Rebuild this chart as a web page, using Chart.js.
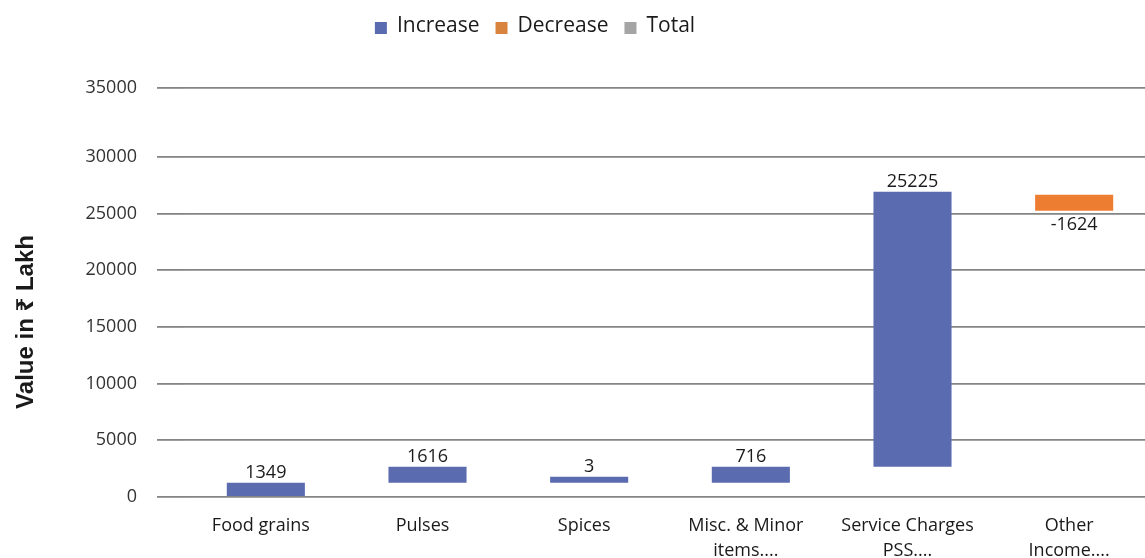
<!DOCTYPE html>
<html>
<head>
<meta charset="utf-8">
<script src="https://cdn.jsdelivr.net/npm/chart.js@4.4.1/dist/chart.umd.min.js"></script>
<style>
  html, body { margin: 0; padding: 0; background: #ffffff; overflow: hidden; }
  #wrap { position: relative; width: 1160px; height: 558px; }
</style>
</head>
<body>
<div id="wrap"><canvas id="c"></canvas></div>
<script>
// ---- data ----
const categories = [
  'Food grains',
  'Pulses',
  'Spices',
  ['Misc. & Minor', 'items....'],
  ['Service Charges', 'PSS....'],
  ['Other', 'Income....']
];
// bar start / end as drawn (value units)
const barStart = [0, 1260, 1260, 1260, 2670, 26660];
const barEnd   = [1260, 2670, 1790, 2670, 26930, 25250];
// printed data labels
const valueLabels = ['1349', '1616', '3', '716', '25225', '-1624'];
// series membership
const isIncrease = [true, true, true, true, true, false];
const seriesNames = ['Increase', 'Decrease', 'Total'];
const seriesColors = ['#5B6BB0', '#ED7D31', '#A5A5A5'];
const legendColors = ['#5B6BB0', '#D9843E', '#A5A5A5'];
const yTickLabels = ['0', '5000', '10000', '15000', '20000', '25000', '30000', '35000'];
const yTitle = 'Value in \u20B9 Lakh';

const incData = categories.map((_, i) => isIncrease[i] ? [barStart[i], barEnd[i]] : null);
const decData = categories.map((_, i) => !isIncrease[i] ? [barStart[i], barEnd[i]] : null);
const totData = categories.map(() => null);

const FONT = "'Open Sans', 'Noto Sans', sans-serif";

const labelPlugin = {
  id: 'valueLabels',
  afterDatasetsDraw(chart) {
    const ctx = chart.ctx;
    ctx.save();
    ctx.font = '18px ' + FONT;
    ctx.fillStyle = '#1a1a1a';
    ctx.textAlign = 'center';
    chart.data.datasets.forEach((ds, di) => {
      const meta = chart.getDatasetMeta(di);
      meta.data.forEach((bar, i) => {
        if (ds.data[i] == null) return;
        const top = Math.min(bar.y, bar.base);
        const bottom = Math.max(bar.y, bar.base);
        if (isIncrease[i]) {
          ctx.textBaseline = 'bottom';
          ctx.fillText(valueLabels[i], bar.x, top - 1);
        } else {
          ctx.textBaseline = 'top';
          ctx.fillText(valueLabels[i], bar.x, bottom + 5);
        }
      });
    });
    ctx.restore();
  }
};

const extrasPlugin = {
  id: 'extras',
  afterDraw(chart) {
    const ctx = chart.ctx;
    ctx.save();
    // y title
    ctx.font = 'bold 24px "Liberation Sans", "Noto Sans", sans-serif';
    ctx.fillStyle = '#1a1a1a';
    ctx.textAlign = 'center';
    ctx.textBaseline = 'middle';
    ctx.translate(26, 322);
    ctx.rotate(-Math.PI / 2);
    ctx.fillText(yTitle, 0, 0);
    ctx.restore();

    // legend
    ctx.save();
    ctx.font = '21px ' + FONT;
    ctx.textBaseline = 'middle';
    ctx.textAlign = 'left';
    const box = 12, gapText = 10, gapItem = 16;
    const widths = seriesNames.map(n => box + gapText + ctx.measureText(n).width);
    const total = widths.reduce((a, b) => a + b, 0) + gapItem * (seriesNames.length - 1);
    let x = 535 - total / 2;
    const y = 26;
    seriesNames.forEach((n, i) => {
      ctx.fillStyle = legendColors[i];
      ctx.fillRect(x, y - box / 2 + 2, box, box);
      ctx.fillStyle = '#1a1a1a';
      ctx.fillText(n, x + box + gapText, y);
      x += widths[i] + gapItem;
    });
    ctx.restore();
  }
};

new Chart(document.getElementById('c'), {
  type: 'bar',
  data: {
    labels: categories,
    datasets: [
      { label: seriesNames[0], data: incData, backgroundColor: seriesColors[0] },
      { label: seriesNames[1], data: decData, backgroundColor: seriesColors[1] },
      { label: seriesNames[2], data: totData, backgroundColor: seriesColors[2] }
    ]
  },
  options: {
    responsive: true,
    maintainAspectRatio: false,
    devicePixelRatio: 1,
    animation: false,
    layout: { padding: { top: 88, right: 5, left: 0, bottom: 0 } },
    datasets: { bar: { categoryPercentage: 1, barPercentage: 0.483, borderSkipped: false } },
    plugins: {
      legend: { display: false },
      tooltip: { enabled: false }
    },
    scales: {
      x: {
        stacked: true,
        grid: { display: false, drawTicks: false },
        border: { display: false },
        ticks: {
          color: '#1a1a1a',
          font: { family: FONT, size: 18, lineHeight: 1.4 },
          padding: 16,
          labelOffset: -5,
          maxRotation: 0,
          autoSkip: false
        },
        afterFit(scale) { scale.height = 61; }
      },
      y: {
        stacked: false,
        min: 0,
        max: 36080,
        border: { display: false },
        grid: { color: '#858585', lineWidth: 1.8, drawTicks: true, tickLength: 28 },
        ticks: {
          color: '#333333',
          font: { family: FONT, size: 18 },
          padding: 20,
          callback(value, index) { return yTickLabels[index]; }
        },
        afterBuildTicks(scale) {
          scale.ticks = yTickLabels.map((t, i) =>
            ({ value: i === yTickLabels.length - 1 ? scale.max : Number(t) }));
        },
        afterFit(scale) { scale.width = 185; }
      }
    }
  },
  plugins: [labelPlugin, extrasPlugin]
});
</script>
</body>
</html>
